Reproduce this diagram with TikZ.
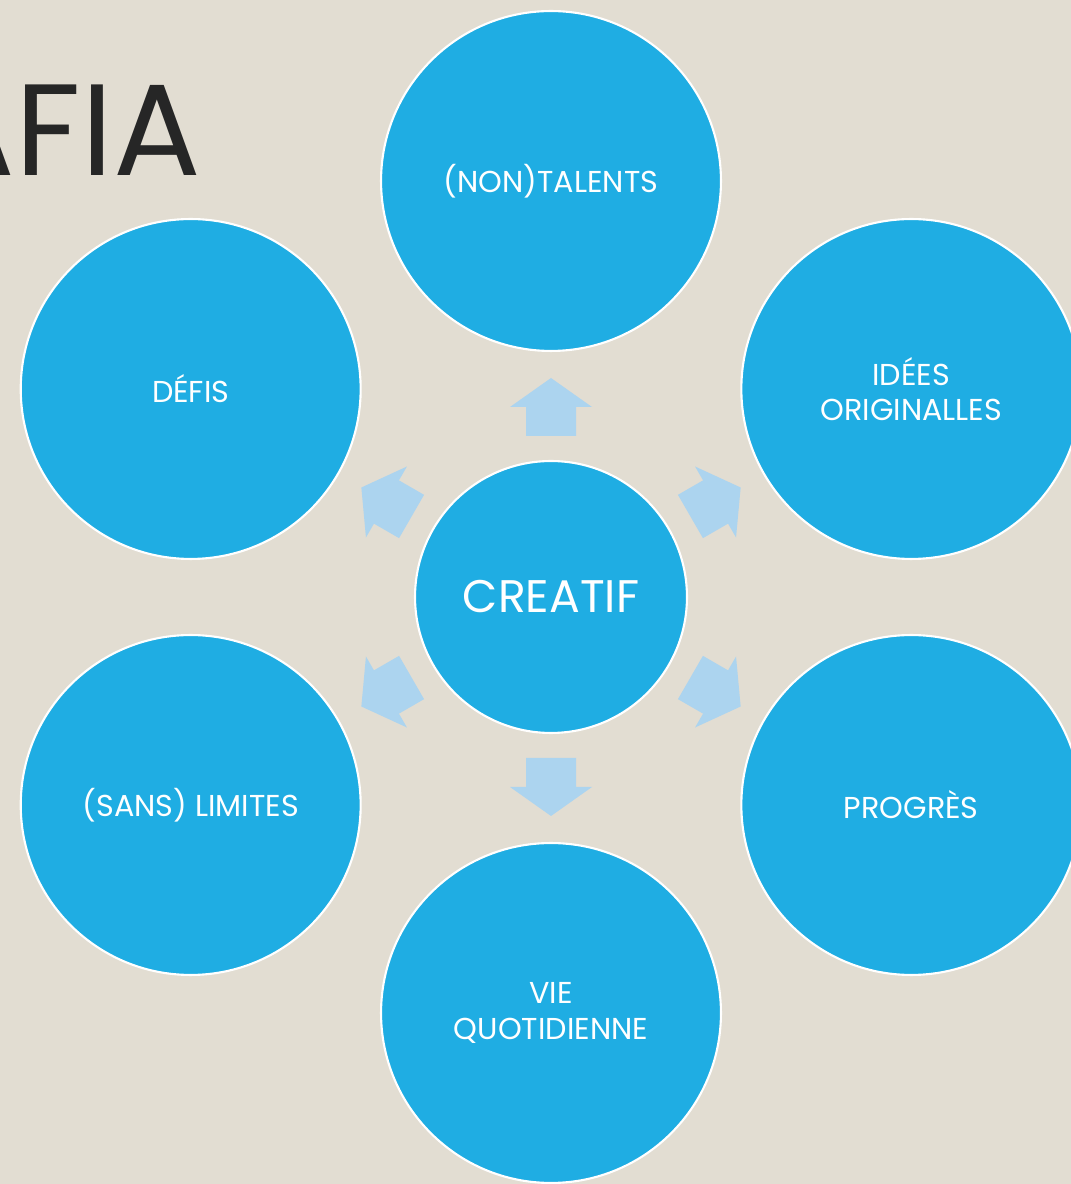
\documentclass[tikz,border=0pt]{standalone}
\usepackage{fontspec}
\setmainfont{Poppins}
\definecolor{fond}{HTML}{E2DDD2}
\definecolor{bulle}{HTML}{1FADE3}
\definecolor{fleche}{HTML}{ACD4EF}
\definecolor{titre}{HTML}{262626}
\begin{document}
\begin{tikzpicture}[x=0.02cm,y=0.02cm,
	bulle/.style={circle,draw=white,line width=1.2pt,fill=bulle,text=white,inner sep=0pt,align=center},
	petite/.style={bulle,minimum size=6.8cm,font=\fontsize{17.2}{20}\selectfont},
	centre/.style={bulle,minimum size=5.44cm,font=\fontsize{26}{30}\selectfont}]
	\fill[fond] (0,0) rectangle (1071,1184);
	\clip (0,0) rectangle (1071,1184);
	\node[anchor=base east,inner sep=0pt,text=titre,font=\fontsize{74}{80}\selectfont] (afia) at (201,1008) {AFIA};
	% centre
	\node[centre] (creatif) at (551,587) {CREATIF};
	% bulles autour
	\node[petite] (talents) at (551,1003) {(NON)TALENTS};
	\node[petite] (idees) at (911.3,795) {IDÉES\\ORIGINALLES};
	\node[petite] (progres) at (911.3,379) {PROGRÈS};
	\node[petite] (vie) at (551,171) {VIE\\QUOTIDIENNE};
	\node[petite] (limites) at (190.7,379) {(SANS) LIMITES};
	\node[petite] (defis) at (190.7,795) {DÉFIS};
	% fleches
	\foreach \a in {90,30,-30,-90,-150,150}
		\fill[fleche,shift={(creatif.center)},rotate=\a] (161,-25) -- (190,-25) -- (190,-41) -- (219,0) -- (190,41) -- (190,25) -- (161,25) -- cycle;
\end{tikzpicture}
\end{document}
